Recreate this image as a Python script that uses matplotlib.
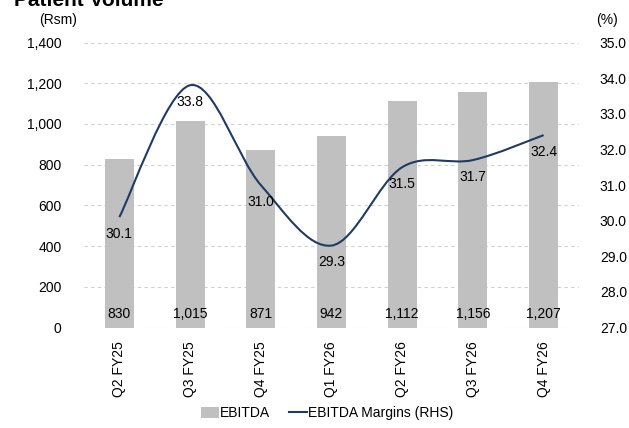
import matplotlib
matplotlib.use("Agg")
import matplotlib.pyplot as plt
from matplotlib.path import Path
from matplotlib.patches import PathPatch, Patch
from matplotlib.lines import Line2D
import numpy as np

plt.rcParams['font.family'] = ['Liberation Sans', 'DejaVu Sans']
plt.rcParams['font.size'] = 10

categories = ["Q2 FY25", "Q3 FY25", "Q4 FY25", "Q1 FY26", "Q2 FY26", "Q3 FY26", "Q4 FY26"]
ebitda = [830, 1015, 871, 942, 1112, 1156, 1207]
margins = [30.1, 33.8, 31.0, 29.3, 31.5, 31.7, 32.4]
left_ticks = [0, 200, 400, 600, 800, 1000, 1200, 1400]
right_ticks = [27.0, 28.0, 29.0, 30.0, 31.0, 32.0, 33.0, 34.0, 35.0]

bar_color = "#C0C0C0"
line_color = "#1F3B64"

fig = plt.figure(figsize=(6.29, 4.28), dpi=100)
ax = fig.add_axes([0.1335, 0.2348, 0.787, 0.6659])
ax2 = ax.twinx()

x = np.arange(len(categories))
ax.bar(x, ebitda, width=0.41, color=bar_color, zorder=2)
ax.set_xlim(-0.5, len(categories) - 0.5)
ax.set_ylim(0, 1400)
ax.set_yticks(left_ticks)
ax.set_yticklabels([f"{v:,}" for v in left_ticks])
ax.set_xticks(x)
ax.set_xticklabels(categories, rotation=90)
ax.tick_params(axis='both', length=0)
ax.tick_params(axis='y', pad=16)
ax.tick_params(axis='x', pad=10)
ax.yaxis.grid(True, linestyle=(0, (3, 3)), color="#D0D0D0", linewidth=0.8)
ax.set_axisbelow(True)
for s in ax.spines.values():
    s.set_visible(False)
for s in ax2.spines.values():
    s.set_visible(False)

for xi, v in zip(x, ebitda):
    ax.annotate(f"{v:,}", (xi, 0), xytext=(0, 9.5), textcoords="offset points",
                ha="center", va="center", fontsize=10, zorder=5)

ax2.set_ylim(27, 35)
ax2.set_yticks(right_ticks)
ax2.set_yticklabels([f"{v:.1f}" for v in right_ticks])
ax2.tick_params(axis='y', length=0, pad=15)

# smoothed line (Catmull-Rom style Bezier through data points)
pts = np.column_stack([x, margins]).astype(float)
verts = [tuple(pts[0])]
codes = [Path.MOVETO]
n = len(pts)
for i in range(n - 1):
    p0 = pts[i - 1] if i > 0 else pts[i]
    p1 = pts[i]
    p2 = pts[i + 1]
    p3 = pts[i + 2] if i + 2 < n else pts[i + 1]
    c1 = p1 + (p2 - p0) / 6.0
    c2 = p2 - (p3 - p1) / 6.0
    verts += [tuple(c1), tuple(c2), tuple(p2)]
    codes += [Path.CURVE4, Path.CURVE4, Path.CURVE4]
ax2.add_patch(PathPatch(Path(verts, codes), facecolor="none", edgecolor=line_color,
                        linewidth=1.5, zorder=3))

for xi, v in zip(x, margins):
    ax2.annotate(f"{v:.1f}", (xi, v), xytext=(0, -12), textcoords="offset points",
                 ha="center", va="center", fontsize=10, zorder=6)

fig.text(0.092, 0.953, "(Rsm)", ha="center", va="center", fontsize=10)
fig.text(0.965, 0.953, "(%)", ha="center", va="center", fontsize=10)
fig.text(0.022, 0.986, "Patient Volume", ha="left", va="baseline", fontsize=15, fontweight="bold")

handles = [Patch(facecolor=bar_color, edgecolor="none"),
           Line2D([0], [0], color=line_color, linewidth=1.5)]
fig.legend(handles, ["EBITDA", "EBITDA Margins (RHS)"], loc="center",
           bbox_to_anchor=(0.52, 0.035), ncol=2, frameon=False, fontsize=10,
           handlelength=1.3, handletextpad=0.1, columnspacing=1.3, handleheight=0.8)

fig.savefig("out.png", dpi=100)
